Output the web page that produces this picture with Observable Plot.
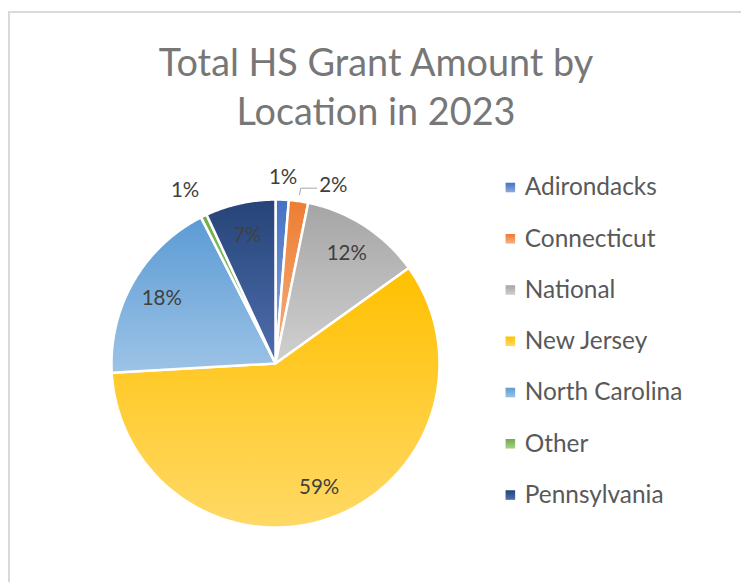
<!DOCTYPE html>
<html><head><meta charset="utf-8">
<script src="https://cdn.jsdelivr.net/npm/d3@7"></script>
<script src="https://cdn.jsdelivr.net/npm/@observablehq/plot@0.6"></script>
<style>
html,body{margin:0;padding:0;background:#fff;}
#wrap{position:relative;width:741px;height:582px;overflow:hidden;font-family:Lato,"Open Sans",sans-serif;}
#frame{position:absolute;left:8px;top:11px;width:900px;height:800px;border-left:2px solid #d9d9d9;border-top:2px solid #d9d9d9;}
#title{position:absolute;left:0;width:752px;top:37px;text-align:center;font-size:37.8px;line-height:49px;color:#777777;}
#chart{position:absolute;left:0;top:0;}
</style></head><body>
<div id="wrap"><div id="frame"></div><div id="chart"></div><div id="title">Total HS Grant Amount by<br>Location in 2023</div></div>
<script>
// Data (percent of total)
const locations = ["Adirondacks","Connecticut","National","New Jersey","North Carolina","Other","Pennsylvania"];
const shares = [1.3, 1.9, 11.9, 59.0, 18.4, 0.6, 6.9];
const shareLabels = ["1%","2%","12%","59%","18%","1%","7%"];
const colorsTop = ["#4472C4","#ED7D31","#A5A5A5","#FFC000","#5B9BD5","#70AD47","#264478"];
const colorsBottom = ["#8FAADC","#F4B183","#D0D0D0","#FFD966","#9DC3E6","#A9D18E","#4F6EAE"];

const gradUrl = locations.map((d, i) => `url(#grad${i})`);

// Pie geometry (unit circle, y up, clockwise from 12 o'clock)
const arcs = d3.pie().sort(null).value(d => d)(shares);
const polys = [];
arcs.forEach((a, i) => {
  const loc = locations[i];
  polys.push({loc, x: 0, y: 0});
  const n = Math.max(2, Math.ceil((a.endAngle - a.startAngle) / 0.01));
  for (let k = 0; k <= n; k++) {
    const t = a.startAngle + (a.endAngle - a.startAngle) * k / n;
    polys.push({loc, x: Math.sin(t), y: Math.cos(t)});
  }
});

// Labels: inside for big slices, outside for small ones
const labelData = [];
const leaders = [];
let prevOut = null;
arcs.forEach((a, i) => {
  const mid = (a.startAngle + a.endAngle) / 2;
  if (shares[i] >= 3) {
    labelData.push({x: 0.8 * Math.sin(mid), y: 0.8 * Math.cos(mid), text: shareLabels[i], anchor: "middle"});
  } else {
    const r = 1.135;
    let lx = r * Math.sin(mid), ly = r * Math.cos(mid);
    if (prevOut && Math.abs(lx - prevOut.x) < 0.2 && Math.abs(ly - prevOut.y) < 0.15) {
      const ex = 1.09 * Math.sin(mid), ey = 1.09 * Math.cos(mid) - 0.01;
      const tx = prevOut.x + 0.22;
      leaders.push({g: i, x: 1.04 * Math.sin(mid), y: 1.04 * Math.cos(mid)});
      leaders.push({g: i, x: ex, y: ey});
      leaders.push({g: i, x: tx - 0.015, y: ey});
      labelData.push({x: tx, y: ey + 0.015, text: shareLabels[i], anchor: "start"});
      prevOut = {x: tx, y: ly};
    } else {
      const rr = shares[i] < 1 ? 1.17 : r;
      labelData.push({x: rr * Math.sin(mid) - (shares[i] < 1 ? 0.04 : 0), y: rr * Math.cos(mid), text: shareLabels[i], anchor: "middle"});
      prevOut = {x: lx, y: ly};
    }
  }
});

// Legend rows (unit coordinates of the same scales)
const legend = locations.map((loc, i) => ({loc, x: 1.432, tx: 1.52, y: 1.073 - i * 0.3125}));

const plot = Plot.plot({
  width: 741,
  height: 582,
  margin: 0,
  style: {background: "transparent", fontFamily: "Lato, 'Open Sans', sans-serif", overflow: "visible"},
  x: {axis: null, domain: [-1, 1], range: [111, 439]},
  y: {axis: null, domain: [-1, 1], range: [527, 199]},
  color: {type: "ordinal", domain: locations, range: gradUrl},
  marks: [
    Plot.line(polys, {x: "x", y: "y", z: "loc", fill: "loc", stroke: "white", strokeWidth: 2.5, strokeLinejoin: "miter", curve: "linear-closed"}),
    Plot.line(leaders, {x: "x", y: "y", z: "g", stroke: "#a6a6a6", strokeWidth: 1}),
    Plot.text(labelData.filter(d => d.anchor === "middle"), {x: "x", y: "y", text: "text", fill: "#404040", fontSize: 20.5, textAnchor: "middle"}),
    Plot.text(labelData.filter(d => d.anchor === "start"), {x: "x", y: "y", text: "text", fill: "#404040", fontSize: 20.5, textAnchor: "start"}),
    Plot.dot(legend, {x: "x", y: "y", fill: "loc", symbol: "square", r: 5.4, stroke: null}),
    Plot.text(legend, {x: "tx", y: "y", text: "loc", fill: "#595959", fontSize: 24.4, textAnchor: "start"})
  ]
});

const svg = d3.select(plot);
const defs = svg.insert("defs", ":first-child");
locations.forEach((loc, i) => {
  const g = defs.append("linearGradient").attr("id", `grad${i}`).attr("x1", 0).attr("y1", 0).attr("x2", 0).attr("y2", 1);
  g.append("stop").attr("offset", "0%").attr("stop-color", colorsTop[i]);
  g.append("stop").attr("offset", "100%").attr("stop-color", colorsBottom[i]);
});
document.getElementById("chart").appendChild(plot);
</script>
</body></html>
